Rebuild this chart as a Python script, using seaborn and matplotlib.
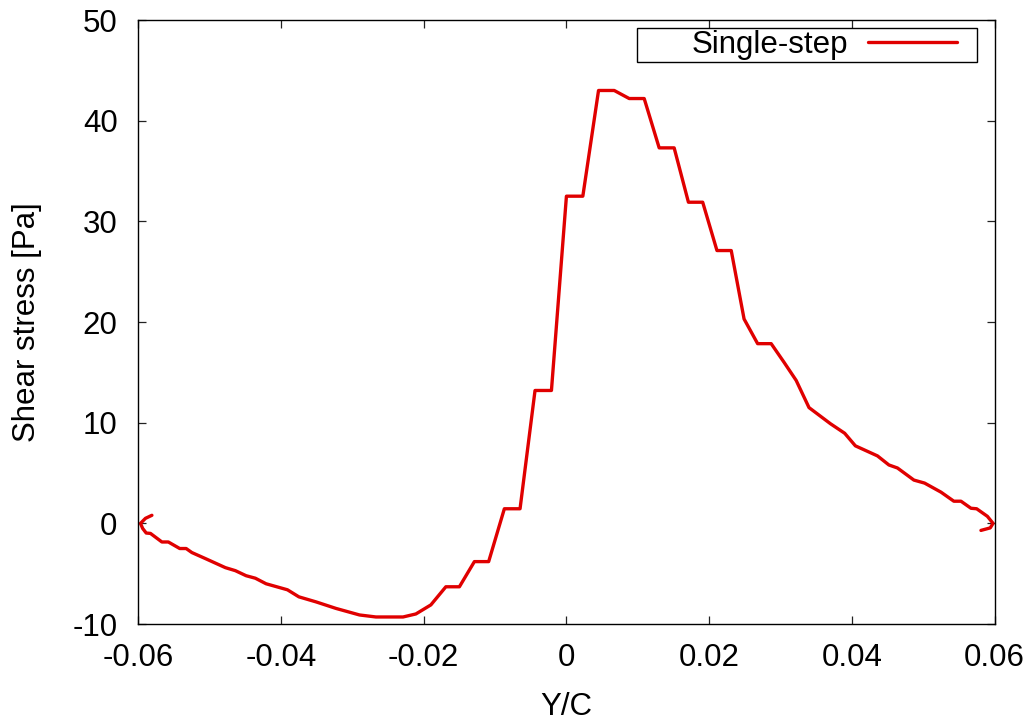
import matplotlib
matplotlib.use("Agg")
import matplotlib.pyplot as plt
from matplotlib.patches import Rectangle
import pandas as pd
import seaborn as sns

# Wall shear stress along the profile (Y/C vs. stress in Pa)
y_over_c = [-0.0581, -0.0590, -0.0597, -0.0594, -0.0589, -0.0583, -0.0567, -0.0558,
            -0.0542, -0.0533, -0.0525, -0.0506, -0.0478, -0.0464, -0.0449, -0.0436,
            -0.0421, -0.0391, -0.0375, -0.0351, -0.0323, -0.0290, -0.0267, -0.0229,
            -0.0211, -0.0190, -0.0169, -0.0150, -0.0129, -0.0109, -0.0087, -0.0065,
            -0.0044, -0.0021, 0.0000, 0.0023, 0.0045, 0.0067, 0.0088, 0.0109,
            0.0130, 0.0151, 0.0171, 0.0191, 0.0211, 0.0231, 0.0249, 0.0268,
            0.0287, 0.0305, 0.0322, 0.0340, 0.0370, 0.0390, 0.0405, 0.0436,
            0.0452, 0.0464, 0.0487, 0.0502, 0.0525, 0.0543, 0.0553, 0.0567,
            0.0575, 0.0590, 0.0598, 0.0594, 0.0581]
shear_stress = [0.8, 0.5, 0.0, -0.5, -0.96, -1.0, -1.85, -1.85,
                -2.5, -2.5, -2.9, -3.5, -4.4, -4.7, -5.2, -5.45,
                -6.0, -6.6, -7.3, -7.8, -8.45, -9.1, -9.3, -9.3,
                -9.0, -8.1, -6.3, -6.3, -3.8, -3.8, 1.45, 1.45,
                13.2, 13.2, 32.5, 32.5, 43.0, 43.0, 42.2, 42.2,
                37.3, 37.3, 31.9, 31.9, 27.1, 27.1, 20.3, 17.85,
                17.85, 16.0, 14.2, 11.5, 9.9, 8.95, 7.7, 6.7,
                5.8, 5.5, 4.3, 4.0, 3.1, 2.2, 2.2, 1.5,
                1.45, 0.7, 0.0, -0.45, -0.7]
series_name = "Single-step"

x_ticks = [-0.06, -0.04, -0.02, 0, 0.02, 0.04, 0.06]
x_tick_labels = ["-0.06", "-0.04", "-0.02", "0", "0.02", "0.04", "0.06"]
y_ticks = [-10, 0, 10, 20, 30, 40, 50]
y_tick_labels = ["-10", "0", "10", "20", "30", "40", "50"]

df = pd.DataFrame({"Y/C": y_over_c, "stress": shear_stress, "series": series_name})

sns.set_theme(style="ticks")
plt.rcParams["font.family"] = ["Liberation Sans", "DejaVu Sans"]
plt.rcParams["text.color"] = "black"
plt.rcParams["axes.labelcolor"] = "black"
FS = 22.5

fig = plt.figure(figsize=(10.34, 7.2), dpi=100)
ax = fig.add_axes([0.1338, 0.1333, 0.9618 - 0.1338, 0.9722 - 0.1333])

sns.lineplot(data=df, x="Y/C", y="stress", hue="series", palette=["#e00000"],
             sort=False, estimator=None, linewidth=2.4, ax=ax)

ax.set_xlim(-0.06, 0.06)
ax.set_ylim(-10, 50)
ax.set_xticks(x_ticks)
ax.set_xticklabels(x_tick_labels)
ax.set_yticks(y_ticks)
ax.set_yticklabels(y_tick_labels)
ax.tick_params(axis="both", direction="in", length=6, width=0.9, color="#222222",
               labelsize=FS, top=True, right=True, labelcolor="black")
ax.tick_params(axis="x", pad=14)
ax.tick_params(axis="y", pad=15)
for sp in ax.spines.values():
    sp.set_visible(True)
    sp.set_linewidth(1.0)
    sp.set_color("black")

ax.set_xlabel("Y/C", fontsize=FS, labelpad=13, color="black")
ax.set_ylabel("Shear stress [Pa]", fontsize=FS, labelpad=22, color="black")

# Key: label first, then sample line, inside a plain rectangular box
ax.add_patch(Rectangle((0.5825, 0.9305), 0.9796 - 0.5825, 0.9868 - 0.9305,
                       transform=ax.transAxes, fill=False, edgecolor="black",
                       linewidth=1.0, zorder=5))
leg = ax.legend(loc="center right", bbox_to_anchor=(0.9562, 0.9586), frameon=False,
                markerfirst=False, fontsize=FS, borderpad=0, borderaxespad=0,
                handlelength=2.85, handletextpad=0.65)
for t in leg.get_texts():
    t.set_color("black")

fig.savefig("out.png", dpi=100)
